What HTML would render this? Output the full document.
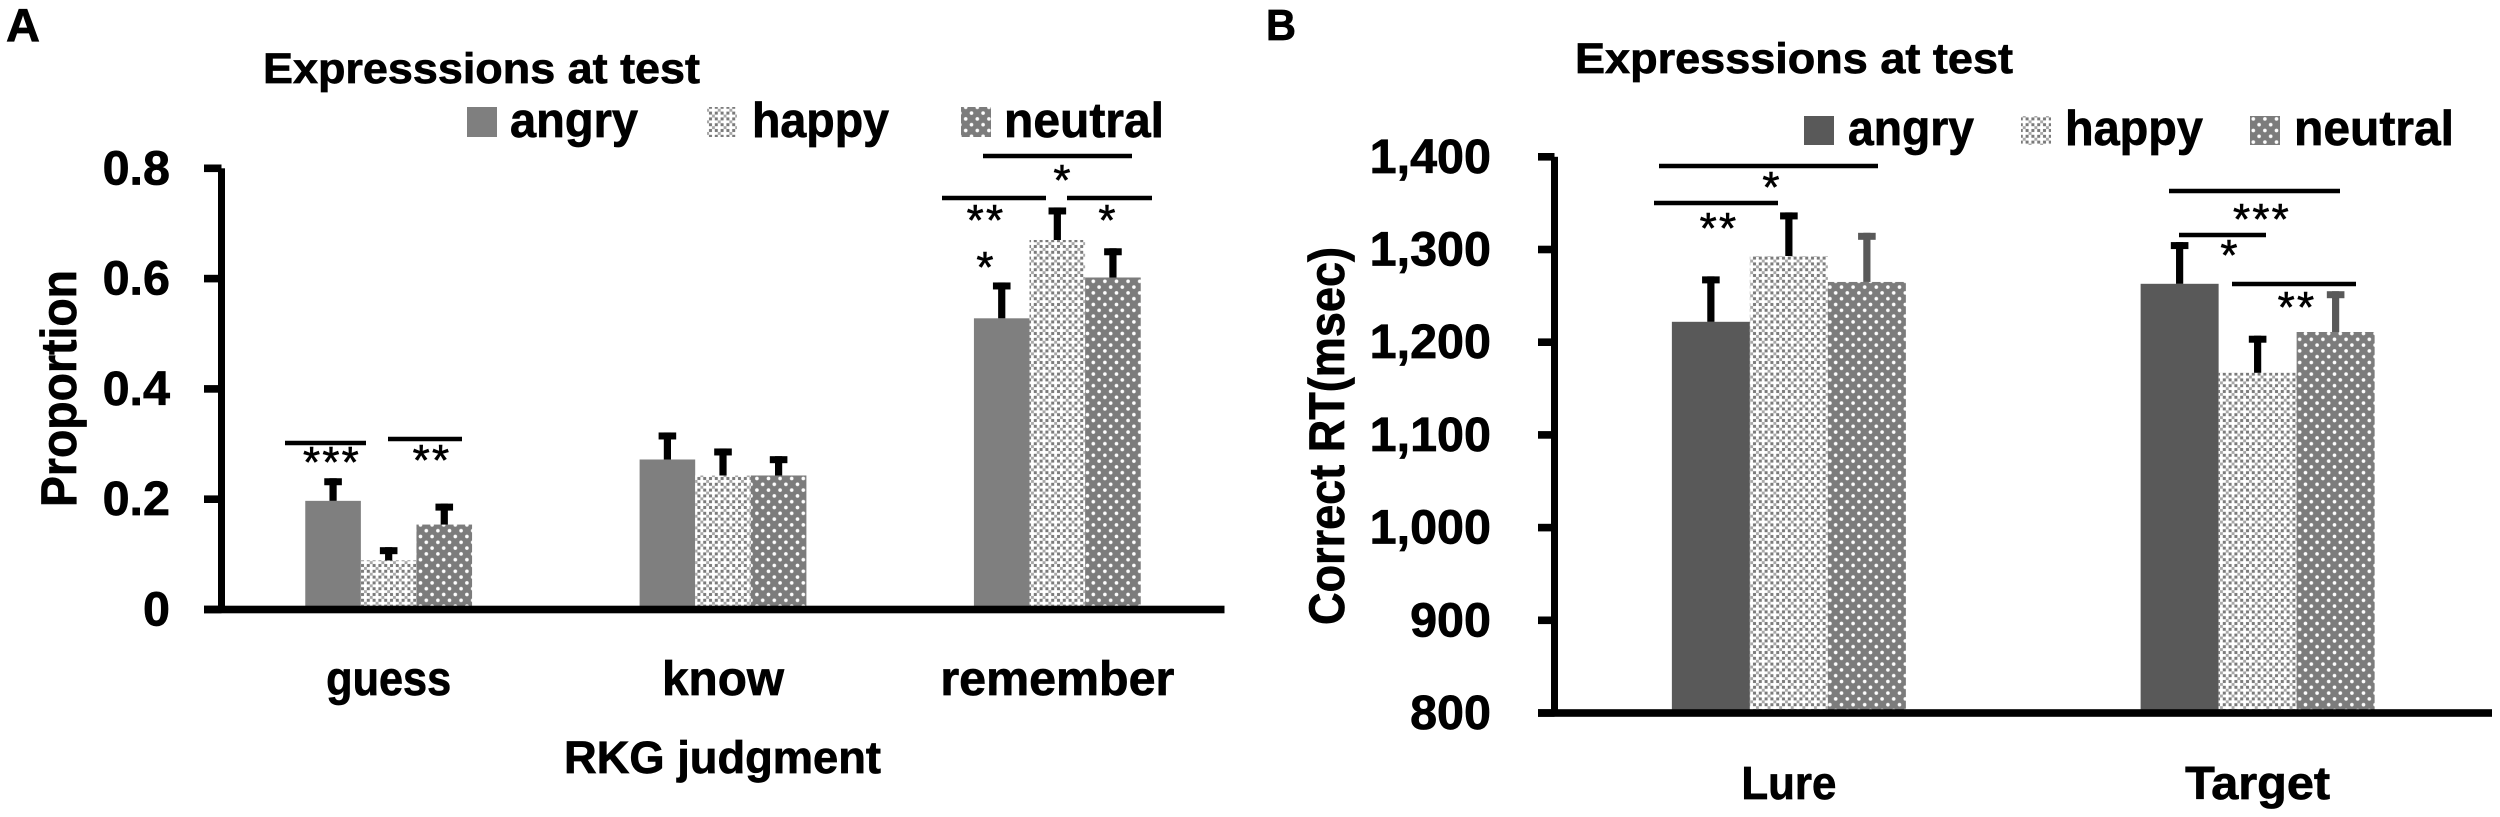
<!DOCTYPE html>
<html lang="en">
<head>
<meta charset="utf-8">
<title>Expressions at test: RKG judgment and correct RT</title>
<style>
html,body{margin:0;padding:0;background:#fff;width:2500px;height:817px;overflow:hidden}
svg{display:block}
text{font-family:"Liberation Sans",Arial,sans-serif;font-weight:bold;fill:#000;stroke:#000;stroke-width:.7px}
.star{font-weight:normal;font-size:44px;text-anchor:middle;letter-spacing:2.2px;stroke-width:.6px}
.sig{stroke:#000;stroke-width:4.5}
</style>
</head>
<body>
<svg id="figure" xmlns="http://www.w3.org/2000/svg" width="2500" height="817" viewBox="0 0 2500 817">
  <defs>
    <pattern id="happy-fill" patternUnits="userSpaceOnUse" width="11.6" height="11.6">
      <rect width="11.6" height="11.6" fill="#fff"/>
      <rect x="1.4" y="1.4" width="3" height="3" fill="#7a7a7a"/>
      <rect x="7.2" y="1.4" width="3" height="3" fill="#7a7a7a"/>
      <rect x="1.4" y="7.2" width="3" height="3" fill="#7a7a7a"/>
      <rect x="7.2" y="7.2" width="3" height="3" fill="#7a7a7a"/>
      <rect x="4.4" y="-1.4" width="2.9" height="2.9" fill="#a8a8a8"/>
      <rect x="4.4" y="10.2" width="2.9" height="2.9" fill="#a8a8a8"/>
      <rect x="-1.4" y="4.4" width="2.9" height="2.9" fill="#a8a8a8"/>
      <rect x="10.2" y="4.4" width="2.9" height="2.9" fill="#a8a8a8"/>
    </pattern>
    <pattern id="neutral-fill" patternUnits="userSpaceOnUse" width="11.6" height="11.6">
      <rect width="11.6" height="11.6" fill="#7c7c7c"/>
      <circle cx="2.9" cy="2.9" r="1.8" fill="#fff"/>
      <circle cx="8.7" cy="8.7" r="1.8" fill="#fff"/>
    </pattern>
  </defs>

  <g id="panel-a">
    <text x="6" y="41" font-size="46" textLength="34" lengthAdjust="spacingAndGlyphs">A</text>
    <text x="263" y="83" font-size="43" textLength="437" lengthAdjust="spacingAndGlyphs">Expresssions at test</text>
    <g>
      <rect x="467" y="107" width="30" height="30" fill="#7f7f7f"/>
      <text x="510" y="137" font-size="49" textLength="128" lengthAdjust="spacingAndGlyphs">angry</text>
      <rect x="707" y="107" width="30" height="30" fill="url(#happy-fill)"/>
      <text x="752" y="137" font-size="49" textLength="137" lengthAdjust="spacingAndGlyphs">happy</text>
      <rect x="961" y="107" width="30" height="30" fill="url(#neutral-fill)"/>
      <text x="1004" y="137" font-size="49" textLength="160" lengthAdjust="spacingAndGlyphs">neutral</text>
    </g>
    <text transform="translate(76 507) rotate(-90)" font-size="50" textLength="237" lengthAdjust="spacingAndGlyphs">Proportion</text>
    <text x="564" y="773" font-size="45" textLength="317" lengthAdjust="spacingAndGlyphs">RKG judgment</text>
    <g id="plot-a"></g>
    <g>
      <line class="sig" x1="285" x2="366" y1="443" y2="443"/>
      <line class="sig" x1="388" x2="462" y1="439" y2="439"/>
      <text class="star" x="332" y="477">***</text>
      <text class="star" x="432" y="475">**</text>
      <line class="sig" x1="983" x2="1132" y1="156" y2="156"/>
      <text class="star" x="1063" y="195">*</text>
      <line class="sig" x1="942" x2="1046" y1="198" y2="198"/>
      <line class="sig" x1="1067" x2="1152" y1="198" y2="198"/>
      <text class="star" x="986" y="235">**</text>
      <text class="star" x="1108" y="235">*</text>
      <text class="star" x="986" y="282">*</text>
    </g>
  </g>

  <g id="panel-b">
    <text x="1266" y="40" font-size="44" textLength="30" lengthAdjust="spacingAndGlyphs">B</text>
    <text x="1575" y="73" font-size="43" textLength="438" lengthAdjust="spacingAndGlyphs">Expresssions at test</text>
    <g>
      <rect x="1804" y="116" width="30" height="29" fill="#595959"/>
      <text x="1848" y="145" font-size="49" textLength="126" lengthAdjust="spacingAndGlyphs">angry</text>
      <rect x="2021" y="116" width="30" height="29" fill="url(#happy-fill)"/>
      <text x="2065" y="145" font-size="49" textLength="138" lengthAdjust="spacingAndGlyphs">happy</text>
      <rect x="2250" y="116" width="30" height="29" fill="url(#neutral-fill)"/>
      <text x="2294" y="145" font-size="49" textLength="160" lengthAdjust="spacingAndGlyphs">neutral</text>
    </g>
    <text transform="translate(1344 625) rotate(-90)" font-size="50" textLength="378" lengthAdjust="spacingAndGlyphs">Correct RT(msec)</text>
    <g id="plot-b"></g>
    <g>
      <line class="sig" x1="1659" x2="1878" y1="166" y2="166"/>
      <text class="star" x="1772" y="202">*</text>
      <line class="sig" x1="1654" x2="1778" y1="203" y2="203"/>
      <text class="star" x="1719" y="243">**</text>
      <line class="sig" x1="2169" x2="2340" y1="191" y2="191"/>
      <text class="star" x="2262" y="234">***</text>
      <line class="sig" x1="2179" x2="2266" y1="235" y2="235"/>
      <text class="star" x="2230" y="270">*</text>
      <line class="sig" x1="2232" x2="2356" y1="284" y2="284"/>
      <text class="star" x="2297" y="322">**</text>
    </g>
  </g>
</svg>

<script>
// ---- Panel A data ----
const categoriesA = ['guess', 'know', 'remember'];
const angryA = [0.197, 0.272, 0.528];
const happyA = [0.089, 0.243, 0.670];
const neutralA = [0.154, 0.243, 0.602];
const angryErrA = [0.041, 0.049, 0.065];
const happyErrA = [0.024, 0.049, 0.059];
const neutralErrA = [0.038, 0.035, 0.053];
const ticksA = [0, 0.2, 0.4, 0.6, 0.8];
const tickLabelsA = ['0', '0.2', '0.4', '0.6', '0.8'];

// ---- Panel B data ----
const categoriesB = ['Lure', 'Target'];
const angryB = [1222, 1263];
const happyB = [1293, 1167];
const neutralB = [1265, 1211];
const angryErrB = [49, 45];
const happyErrB = [47, 40];
const neutralErrB = [53, 44];
const ticksB = [800, 900, 1000, 1100, 1200, 1300, 1400];
const tickLabelsB = ['800', '900', '1,000', '1,100', '1,200', '1,300', '1,400'];

const SVG_NS = 'http://www.w3.org/2000/svg';

function make(parent, tag, attrs) {
  const el = document.createElementNS(SVG_NS, tag);
  for (const k in attrs) el.setAttribute(k, attrs[k]);
  parent.appendChild(el);
  return el;
}

function drawPanel(cfg) {
  const root = document.getElementById(cfg.id);
  const yOf = function (v) { return cfg.yBase - (v - cfg.yMin) * cfg.yScale; };
  const band = (cfg.xEnd - cfg.xAxis) / cfg.categories.length;
  const centerOf = function (i) { return cfg.xAxis + band * (i + 0.5); };
  const names = ['angry', 'happy', 'neutral'];

  cfg.categories.forEach(function (cat, i) {
    cfg.series.forEach(function (s, k) {
      const x = centerOf(i) + (k - 1.5) * cfg.barW;
      const val = s.values[i];
      const top = yOf(val);
      const bar = make(root, 'rect', { x: x, y: top, width: cfg.barW, height: cfg.yBase - top, fill: s.fill });
      
      

      const cx = x + cfg.barW / 2;
      const errTop = yOf(val + s.errs[i]);
      const stem = make(root, 'rect', { x: cx - 3.6, y: errTop, width: 7.2, height: top - errTop, fill: s.errColor });
      
      
      const cap = make(root, 'rect', { x: cx - 8.8, y: errTop, width: 17.6, height: 7, fill: s.errColor });
      
      
    });

    const label = make(root, 'text', {
      x: centerOf(i), y: cfg.catBaseline, 'font-size': cfg.catSize, 'text-anchor': 'middle',
      textLength: cfg.catWidths[i], lengthAdjust: 'spacingAndGlyphs'
    });
    label.textContent = cat;
    
    
  });

  const topY = yOf(cfg.ticks[cfg.ticks.length - 1]);
  const yAxis = make(root, 'rect', { x: cfg.xAxis - 3.5, y: topY, width: 7, height: cfg.yBase - topY, fill: '#000' });
  
  

  const xAxis = make(root, 'rect', { x: cfg.xTick, y: cfg.yBase - 3.8, width: cfg.xEnd - cfg.xTick, height: 7.6, fill: '#000' });
  
  

  cfg.ticks.forEach(function (t, i) {
    const y = yOf(t);
    const mark = make(root, 'rect', { x: cfg.xTick, y: y - 3.8, width: cfg.xAxis - cfg.xTick, height: 7.6, fill: '#000' });
    
    
    const label = make(root, 'text', { x: cfg.tickRight, y: y + 16, 'font-size': 48.5, 'text-anchor': 'end' });
    label.textContent = cfg.tickLabels[i];
    
    
  });
}

drawPanel({
  id: 'plot-a', categories: categoriesA, ticks: ticksA, tickLabels: tickLabelsA,
  xAxis: 221.5, xEnd: 1224.5, xTick: 204, tickRight: 170,
  yBase: 609.5, yMin: 0, yScale: 551.5, barW: 55.6,
  catBaseline: 695, catSize: 48, catWidths: [125, 122, 234],
  series: [
    { values: angryA, errs: angryErrA, fill: '#7f7f7f', errColor: '#000' },
    { values: happyA, errs: happyErrA, fill: 'url(#happy-fill)', errColor: '#000' },
    { values: neutralA, errs: neutralErrA, fill: 'url(#neutral-fill)', errColor: '#000' }
  ]
});

drawPanel({
  id: 'plot-b', categories: categoriesB, ticks: ticksB, tickLabels: tickLabelsB,
  xAxis: 1554.5, xEnd: 2492, xTick: 1538, tickRight: 1491,
  yBase: 713, yMin: 800, yScale: 0.927, barW: 78,
  catBaseline: 799, catSize: 46, catWidths: [95, 145],
  series: [
    { values: angryB, errs: angryErrB, fill: '#595959', errColor: '#000' },
    { values: happyB, errs: happyErrB, fill: 'url(#happy-fill)', errColor: '#000' },
    { values: neutralB, errs: neutralErrB, fill: 'url(#neutral-fill)', errColor: '#595959' }
  ]
});
</script>
</body>
</html>
